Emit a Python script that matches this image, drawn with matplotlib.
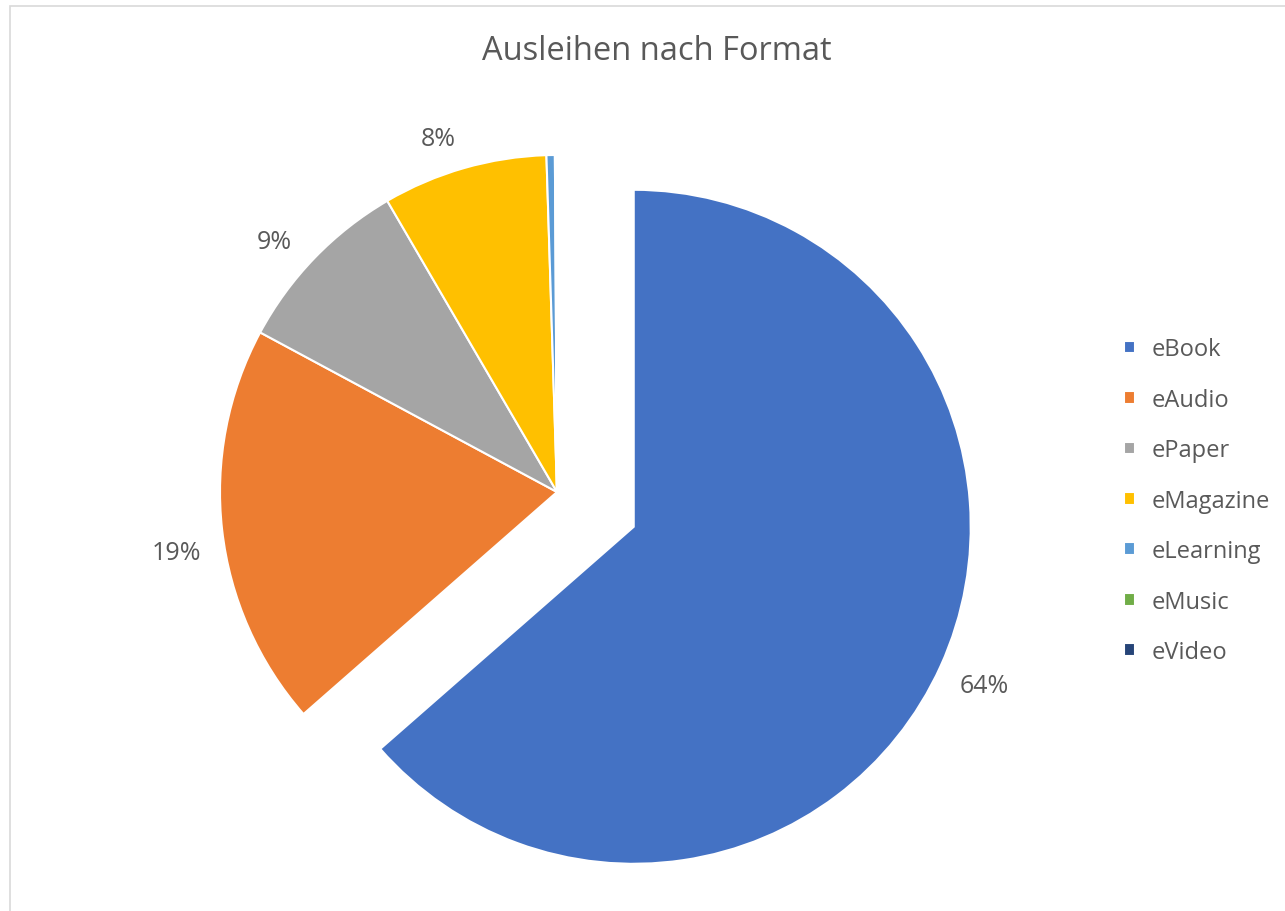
import numpy as np
import matplotlib.pyplot as plt
from matplotlib.patches import Rectangle

# Ausleihen nach Format (Anteile in %)
formats = ["eBook", "eAudio", "ePaper", "eMagazine", "eLearning", "eMusic", "eVideo"]
shares = [63.55, 19.3, 8.75, 7.9, 0.4, 0.05, 0.05]
colors = ["#4472C4", "#ED7D31", "#A5A5A5", "#FFC000", "#5B9BD5", "#70AD47", "#264478"]
explode = [0.25, 0, 0, 0, 0, 0, 0]

text_color = "#595959"
plt.rcParams["font.family"] = ["Open Sans", "DejaVu Sans"]

W, H = 1285, 912
fig = plt.figure(figsize=(W / 100, H / 100), dpi=100)

# light chart-area border (cut off at right/bottom as in the screenshot)
fig.patches.append(Rectangle((10 / W, -0.1), 1.2, 1 - 7 / H + 0.1,
                             transform=fig.transFigure, fill=False,
                             edgecolor="#d9d9d9", linewidth=1.2))

# pie axes: centre at (557, 493) px, radius 337 px
R = 337
lim = 1.4
cx, cy = 557, H - 493
size = 2 * lim * R
ax = fig.add_axes([(cx - size / 2) / W, (cy - size / 2) / H, size / W, size / H])


def pct_label(p):
    return f"{p:.0f}%" if p >= 1 else ""


wedges, texts, autotexts = ax.pie(
    shares, colors=colors, explode=explode, startangle=90, counterclock=False,
    autopct=pct_label, pctdistance=1.16,
    wedgeprops=dict(edgecolor="white", linewidth=1.5),
    textprops=dict(color=text_color, fontsize=18),
)
ax.set_xlim(-lim, lim)
ax.set_ylim(-lim, lim)
ax.set_aspect("equal")
ax.axis("off")

# place labels "outside end": fixed gap between the rim and the label box
fig.canvas.draw()
renderer = fig.canvas.get_renderer()
gap = 22 / R
for t, w, ex in zip(autotexts, wedges, explode):
    if not t.get_text():
        continue
    mid = (w.theta1 + w.theta2) / 2
    if ex == 0:
        mid += 2.5  # Excel nudges these labels slightly counter-clockwise
    ang = np.deg2rad(mid)
    bb = t.get_window_extent(renderer)
    hw, hh = bb.width / 2 / R, 0.7 * bb.height / 2 / R
    d = w.r + gap + abs(np.cos(ang)) * hw + abs(np.sin(ang)) * hh
    x0, y0 = w.center
    t.set_position((x0 + d * np.cos(ang), y0 + d * np.sin(ang)))
    t.set_ha("center")
    t.set_va("center")

fig.text(657 / W, 1 - 52 / H, "Ausleihen nach Format", ha="center", va="center",
         fontsize=23.5, color=text_color)

fig.legend(wedges, formats, loc="upper left", bbox_to_anchor=(1115 / W, 1 - 329 / H),
           frameon=False, fontsize=17, labelcolor=text_color,
           handlelength=0.45, handleheight=0.45, handletextpad=0.7,
           labelspacing=1.12, borderaxespad=0)

fig.savefig("out.png", dpi=100)
